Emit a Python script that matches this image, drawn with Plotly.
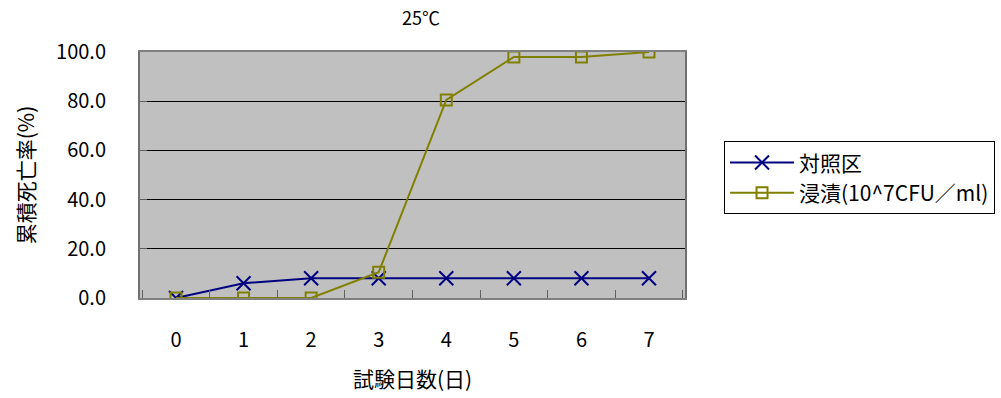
import plotly.graph_objects as go

days = ["0", "1", "2", "3", "4", "5", "6", "7"]
control = [0.0, 6.0, 8.0, 8.0, 8.0, 8.0, 8.0, 8.0]
immersion = [0.0, 0.0, 0.0, 10.5, 80.5, 98.0, 98.0, 100.0]
y_ticks = [0, 20, 40, 60, 80, 100]
y_tick_text = ["0.0", "20.0", "40.0", "60.0", "80.0", "100.0"]

font_family = "Noto Sans CJK JP"

fig = go.Figure()
fig.add_trace(go.Scatter(
    x=days, y=control, name="対照区", mode="lines+markers",
    line=dict(color="#000080", width=2),
    marker=dict(symbol="x-thin", size=14, line=dict(color="#000080", width=2)),
))
fig.add_trace(go.Scatter(
    x=days, y=immersion, name="浸漬(10^7CFU／ml)", mode="lines+markers",
    line=dict(color="#808000", width=2),
    marker=dict(symbol="square-open", size=11, color="#808000", line=dict(width=2)),
))

fig.update_layout(
    width=1001, height=398,
    margin=dict(l=140, r=316, t=52, b=100, autoexpand=False),
    paper_bgcolor="white",
    plot_bgcolor="#C0C0C0",
    font=dict(family=font_family, color="black", size=20),
    title=dict(text="25℃", x=421 / 1001, xanchor="center", y=1 - 19 / 398, yanchor="middle",
               font=dict(size=18, family=font_family)),
    showlegend=True,
    legend=dict(
        x=1.0716, y=0.637, xanchor="left", yanchor="top",
        bgcolor="white", bordercolor="black", borderwidth=1,
        font=dict(size=21, family=font_family),
        itemwidth=64,
        tracegroupgap=0,
    ),
    xaxis=dict(
        type="category",
        automargin=False,
        showgrid=False, zeroline=False,
        showline=True, linecolor="#808080", linewidth=2, mirror=True,
        ticks="inside", ticklen=8, tickcolor="#606060", tickson="boundaries",
        ticklabelstandoff=23,
        tickfont=dict(size=20),
        title=dict(text="試験日数(日)", font=dict(size=21), standoff=20),
    ),
    yaxis=dict(
        range=[0, 100],
        automargin=False,
        tickvals=y_ticks, ticktext=y_tick_text,
        showgrid=True, gridcolor="black", gridwidth=1,
        zeroline=False,
        showline=True, linecolor="#707070", linewidth=2, mirror=True,
        ticks="inside", ticklen=7, tickcolor="#606060",
        ticklabelstandoff=28,
        tickfont=dict(size=20),
        title=dict(text="累積死亡率(%)", font=dict(size=21), standoff=16),
    ),
)

fig.write_html("out.html")
